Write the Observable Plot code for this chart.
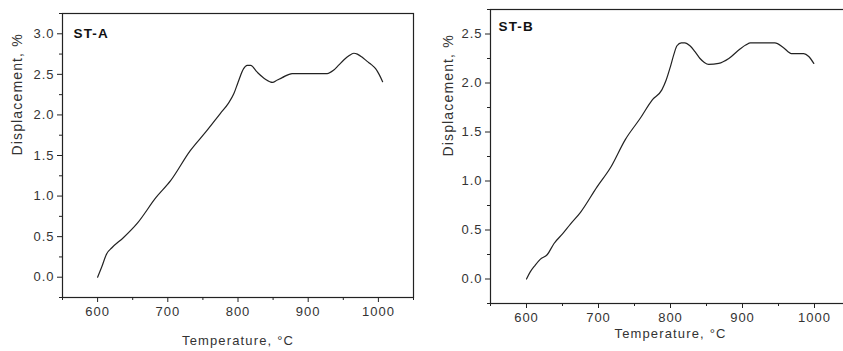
<!DOCTYPE html>
<html>
<head>
<meta charset="utf-8">
<script src="https://cdn.jsdelivr.net/npm/d3@7"></script>
<script src="https://cdn.jsdelivr.net/npm/@observablehq/plot@0.6"></script>
<style>
  html, body { margin: 0; padding: 0; background: #fff; }
  #wrap { position: relative; width: 843px; height: 351px; overflow: hidden; background: #fff; }
  #wrap svg { position: absolute; top: 0; }
  #wrap g[aria-label="x-axis tick label"] text,
  #wrap g[aria-label="y-axis tick label"] text { letter-spacing: 1px; }
  #wrap g[aria-label="text"] text { letter-spacing: 1.15px; }
</style>
</head>
<body>
<div id="wrap"></div>
<script>
// ST-A series (temperature °C, displacement %)
const tempA = [600,606,613,620,637,657,683,704,732,755,775,786,794,800,808,813,818,827,839,849,856,863,877,927,936,943,951,958,965,970,977,984,990,996,1001,1006];
const dispA = [0.00,0.13,0.29,0.36,0.49,0.67,0.98,1.19,1.56,1.80,2.02,2.14,2.26,2.40,2.57,2.61,2.61,2.53,2.44,2.40,2.43,2.46,2.51,2.51,2.55,2.61,2.68,2.73,2.76,2.75,2.71,2.66,2.62,2.57,2.50,2.41];
// ST-B series
const tempB = [600,605,612,619,629,638,650,661,675,698,717,737,758,775,788,794,800,805,809,815,820,827,834,841,847,853,867,881,897,905,911,945,957,968,985,992,999];
const dispB = [0.00,0.07,0.14,0.20,0.25,0.36,0.46,0.56,0.68,0.94,1.14,1.42,1.64,1.83,1.93,2.03,2.17,2.30,2.38,2.41,2.41,2.38,2.32,2.25,2.21,2.19,2.20,2.25,2.35,2.39,2.41,2.41,2.36,2.30,2.30,2.27,2.20];

const xMajor = [600,700,800,900,1000];
const xMinor = [550,650,750,850,950,1050];
const yMajorA = [0,0.5,1.0,1.5,2.0,2.5,3.0];
const yMinorA = [-0.25,0.25,0.75,1.25,1.75,2.25,2.75,3.25];
const yMajorB = [0,0.5,1.0,1.5,2.0,2.5];
const yMinorB = [-0.25,0.25,0.75,1.25,1.75,2.25,2.75];
const titles = ["ST-A","ST-B"];
const xLabel = "Temperature, °C";
const yLabel = "Displacement, %";

const ink = "#222";
const baseStyle = {fontFamily: "'Liberation Sans', Arial, sans-serif", fontSize: "13px", color: ink, background: "#fff", overflow: "visible"};

function panel(opts) {
  const data = opts.temps.map((t, i) => ({t, d: opts.disps[i]}));
  return Plot.plot({
    width: opts.width, height: 351,
    marginLeft: opts.ml, marginRight: opts.mr, marginTop: opts.mt, marginBottom: opts.mb,
    style: baseStyle,
    x: {domain: [550, 1050]},
    y: {domain: opts.ydomain},
    marks: [
      Plot.frame({stroke: ink, strokeWidth: 1.2}),
      Plot.axisX({ticks: xMajor, tickSize: 5, tickPadding: 4, tickFormat: d => String(d), label: null, fontSize: 13, fill: "#333"}),
      Plot.axisX({ticks: xMinor, tickSize: 3, tickFormat: () => "", label: null}),
      Plot.axisY({ticks: opts.yMajor, tickSize: 5, tickPadding: 3, tickFormat: d3.format(".1f"), label: null, fontSize: 13, fill: "#333"}),
      Plot.axisY({ticks: opts.yMinor, tickSize: 3, tickFormat: () => "", label: null}),
      Plot.line(data, {x: "t", y: "d", stroke: ink, strokeWidth: 1.2, curve: "monotone-x"}),
      Plot.text([opts.title], {frameAnchor: "top-left", dx: opts.tdx, dy: opts.tdy, lineAnchor: "top", textAnchor: "start", fontWeight: "bold", fontSize: 13.5, fill: "#111"}),
      Plot.text([xLabel], {frameAnchor: "bottom", dy: opts.xldy, lineAnchor: "middle", fontSize: 13, fill: "#333"}),
      Plot.text([yLabel], {frameAnchor: "left", dx: opts.yldx, rotate: -90, lineAnchor: "middle", fontSize: 14, fill: "#333"})
    ]
  });
}

const wrap = document.getElementById("wrap");
const pA = panel({temps: tempA, disps: dispA, width: 420, ml: 62, mr: 7, mt: 13, mb: 54,
  ydomain: [-0.25, 3.25], yMajor: yMajorA, yMinor: yMinorA, title: titles[0], tdx: 11, tdy: 15, xldy: 43, yldx: -45});
pA.style.left = "0px";
wrap.appendChild(pA);
const pB = panel({temps: tempB, disps: dispB, width: 430, ml: 70, mr: 0, mt: 9, mb: 48,
  ydomain: [-0.25, 2.75], yMajor: yMajorB, yMinor: yMinorB, title: titles[1], tdx: 8, tdy: 12, xldy: 30, yldx: -42});
pB.style.left = "420px";
wrap.appendChild(pB);
</script>
</body>
</html>
